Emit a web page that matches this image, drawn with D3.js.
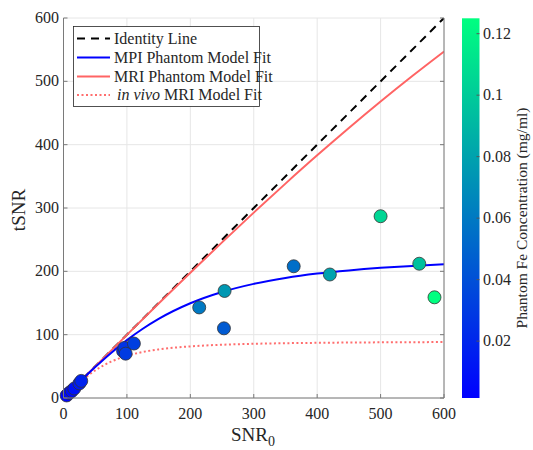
<!DOCTYPE html>
<html><head><meta charset="utf-8">
<script src="https://cdn.jsdelivr.net/npm/d3@7"></script>
<style>body{margin:0;background:#fff;} svg{display:block;} svg text{font-family:"Liberation Serif",serif;fill:#262626;}</style>
</head><body><svg id="c" width="533" height="450" font-family="Liberation Serif, serif"></svg>
<script>
// Data
const xTicks = [0,100,200,300,400,500,600];
const yTicks = [0,100,200,300,400,500,600];
const cTicks = [0.02,0.04,0.06,0.08,0.1,0.12];
const cTickLabels = ["0.02","0.04","0.06","0.08","0.1","0.12"];
const identityX = [0,600];
const identityY = [0,600];
const mpiX = [0,25,50,75,100,125,150,200,250,300,350,400,450,500,550,600];
const mpiY = [0,24.9,48.8,71.2,91.4,109.3,124.9,149.6,167.4,180.2,189.5,196.4,201.5,205.5,208.6,211.0];
const mriX = [0,50,100,150,200,250,300,350,400,450,500,550,600];
const mriY = [0,50,99.7,149.1,197.8,245.7,292.7,338.5,383.1,426.3,468.1,508.3,547.0];
const vivoX = [0,10,20,30,40,50,75,100,125,150,200,250,300,400,500,600];
const vivoY = [0,9.9,19.5,28.4,36.5,43.6,57.4,66.6,72.7,76.7,81.5,84.1,85.6,87.1,87.9,88.3];
const ptSNR0 = [5,9,13,17,25,28,94,96,98,111,214,254,253,363,420,500,561,585];
const ptTSNR = [4,8,11,15,23,27,74,79,70,86,143,169,110,208,195,287,212,159];
const ptConc = [0.004,0.006,0.008,0.01,0.014,0.018,0.022,0.026,0.03,0.032,0.06,0.075,0.045,0.055,0.08,0.105,0.095,0.125];
const legendLabels = ["Identity Line","MPI Phantom Model Fit","MRI Phantom Model Fit","in vivo MRI Model Fit"];
const colorbarLabel = "Phantom Fe Concentration (mg/ml)";

const FF = "Liberation Serif, serif";
const svg = d3.select("#c");
const L=63.5, R=444, T=18, B=398;
const x = d3.scaleLinear().domain([0,600]).range([L,R]);
const y = d3.scaleLinear().domain([0,600]).range([B,T]);
const cMin=0.0015, cMax=0.125;
const winter = t => d3.rgb(0, Math.round(255*t), Math.round(255-127.5*t));
const cscale = v => winter(Math.max(0,Math.min(1,(v-cMin)/(cMax-cMin))));

// grid
const g = svg.append("g");
g.selectAll(".gx").data(xTicks).enter().append("line")
 .attr("x1",d=>x(d)).attr("x2",d=>x(d)).attr("y1",T).attr("y2",B)
 .attr("stroke","#e6e6e6").attr("stroke-width",1);
g.selectAll(".gy").data(yTicks).enter().append("line")
 .attr("y1",d=>y(d)).attr("y2",d=>y(d)).attr("x1",L).attr("x2",R)
 .attr("stroke","#e6e6e6").attr("stroke-width",1);

// curves
svg.append("clipPath").attr("id","clp").append("rect").attr("x",L).attr("y",T).attr("width",R-L).attr("height",B-T);
const pl = svg.append("g").attr("clip-path","url(#clp)");
const mk = (xs,ys)=>xs.map((v,i)=>[v,ys[i]]);
const line = d3.line().x(d=>x(d[0])).y(d=>y(d[1])).curve(d3.curveMonotoneX);
pl.append("path").attr("d",line(mk(vivoX,vivoY))).attr("fill","none").attr("stroke","#ff6e6e").attr("stroke-width",2).attr("stroke-dasharray","2,2.5");
pl.append("path").attr("d",line(mk(identityX,identityY))).attr("fill","none").attr("stroke","#000").attr("stroke-width",2).attr("stroke-dasharray","8,6");
pl.append("path").attr("d",line(mk(mriX,mriY))).attr("fill","none").attr("stroke","#ff6464").attr("stroke-width",2);
pl.append("path").attr("d",line(mk(mpiX,mpiY))).attr("fill","none").attr("stroke","#0000ff").attr("stroke-width",2);

// points
svg.append("g").selectAll("circle").data(ptSNR0.map((v,i)=>[v,ptTSNR[i],ptConc[i]])).enter().append("circle")
 .attr("cx",d=>x(d[0])).attr("cy",d=>y(d[1])).attr("r",6.5)
 .attr("fill",d=>cscale(d[2])).attr("stroke","#333").attr("stroke-width",0.8);

// axes
const ax = svg.append("g");
const axc="#7a7a7a";
ax.append("line").attr("x1",L).attr("x2",R).attr("y1",B).attr("y2",B).attr("stroke",axc);
ax.append("line").attr("x1",L).attr("x2",L).attr("y1",T).attr("y2",B).attr("stroke",axc);
ax.append("line").attr("x1",R).attr("x2",R).attr("y1",T).attr("y2",B).attr("stroke",axc);
xTicks.forEach(d=>{
  ax.append("line").attr("x1",x(d)).attr("x2",x(d)).attr("y1",B).attr("y2",B-4).attr("stroke",axc);
  ax.append("text").attr("x",x(d)).attr("y",419).attr("text-anchor","middle").attr("font-family",FF).attr("font-size",16).text(d);
});
yTicks.forEach(d=>{
  ax.append("line").attr("x1",L).attr("x2",L+4).attr("y1",y(d)).attr("y2",y(d)).attr("stroke",axc);
  ax.append("line").attr("x1",R).attr("x2",R-4).attr("y1",y(d)).attr("y2",y(d)).attr("stroke",axc);
  ax.append("text").attr("x",59).attr("y",y(d)+5).attr("text-anchor","end").attr("font-family",FF).attr("font-size",16).text(d);
});
svg.append("text").attr("transform","translate(25,210) rotate(-90)").attr("text-anchor","middle").attr("font-family",FF).attr("font-size",19).text("tSNR");
const xl = svg.append("text").attr("x",253).attr("y",441).attr("text-anchor","middle").attr("font-family",FF).attr("font-size",19);
xl.append("tspan").text("SNR");
xl.append("tspan").attr("dy",5).attr("font-size",14).text("0");

// legend
const lg = svg.append("g");
lg.append("rect").attr("x",73.5).attr("y",26.5).attr("width",186).attr("height",80).attr("fill","#fff").attr("stroke","#262626").attr("stroke-width",0.8);
const ly = [38.5,57.5,76.5,95];
const lstyles = [
 {c:"#000",d:"8,6"},{c:"#0000ff",d:null},{c:"#ff6464",d:null},{c:"#ff6e6e",d:"2,2.5"}];
ly.forEach((yy,i)=>{
  const s=lstyles[i];
  const ln=lg.append("line").attr("x1",77).attr("x2",110).attr("y1",yy).attr("y2",yy).attr("stroke",s.c).attr("stroke-width",2);
  if(s.d) ln.attr("stroke-dasharray",s.d);
  const t=lg.append("text").attr("x",114).attr("y",yy+5).attr("font-family",FF).attr("font-size",16);
  if(i===3){ t.attr("x",117); t.append("tspan").attr("font-style","italic").text("in vivo"); t.append("tspan").text(" MRI Model Fit");}
  else t.text(legendLabels[i]);
});

// colorbar
const cbL=462, cbW=17.5, cbT=18.3, cbB=398;
const cy = d3.scaleLinear().domain([cMin,cMax]).range([cbB,cbT]);
const grad = svg.append("defs").append("linearGradient").attr("id","cg").attr("x1",0).attr("x2",0).attr("y1",1).attr("y2",0);
[0,0.25,0.5,0.75,1].forEach(t=>grad.append("stop").attr("offset",t).attr("stop-color",winter(t)));
svg.append("rect").attr("x",cbL).attr("y",cbT).attr("width",cbW).attr("height",cbB-cbT).attr("fill","url(#cg)");
cTicks.forEach((d,i)=>{
  svg.append("line").attr("x1",cbL+cbW).attr("x2",cbL+cbW-3).attr("y1",cy(d)).attr("y2",cy(d)).attr("stroke","#555");
  svg.append("text").attr("x",483).attr("y",cy(d)+5).attr("font-family",FF).attr("font-size",16).text(cTickLabels[i]);
});
svg.append("text").attr("transform","translate(527,218) rotate(-90)").attr("text-anchor","middle").attr("font-family",FF).attr("font-size",15.5).text(colorbarLabel);
</script></body></html>
